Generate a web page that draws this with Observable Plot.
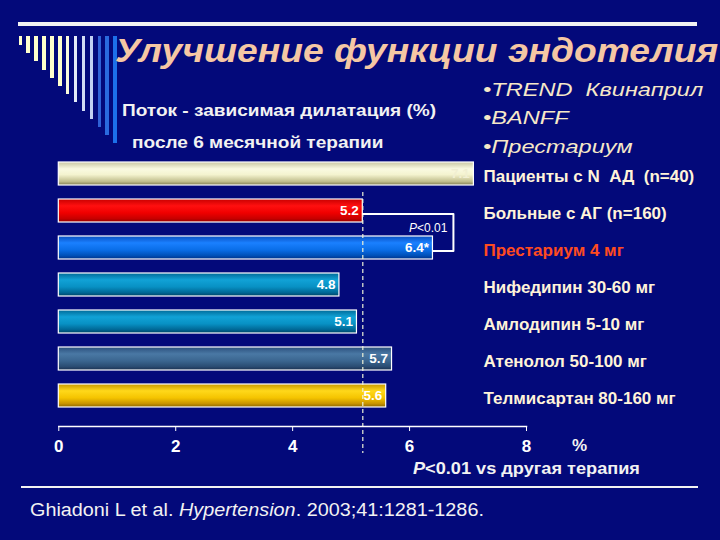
<!DOCTYPE html>
<html><head><meta charset="utf-8">
<script src="https://cdn.jsdelivr.net/npm/d3@7"></script>
<script src="https://cdn.jsdelivr.net/npm/@observablehq/plot@0.6"></script>
<style>
html,body{margin:0;padding:0;background:#03097a;}
#wrap{position:relative;width:720px;height:540px;overflow:hidden;background:#03097a;font-family:"Liberation Sans",Arial,sans-serif;}
.t{position:absolute;white-space:pre;line-height:1;transform-origin:0 0;}
.deco{position:absolute;}
#chart{position:absolute;left:0;top:0;}
g[aria-label="category labels"] text{letter-spacing:1.5px;white-space:pre;}
</style></head><body>
<div id="wrap"><div id="chart"></div></div>
<script>
// ---- data ----
const categories = ["Пациенты с N  АД  (n=40)", "Больные с АГ (n=160)", "Престариум 4 мг", "Нифедипин 30-60 мг", "Амлодипин 5-10 мг", "Атенолол 50-100 мг", "Телмисартан 80-160 мг"];
const values = [7.1, 5.2, 6.4, 4.8, 5.1, 5.7, 5.6];
const valueLabels = ["7.1", "5.2", "6.4*", "4.8", "5.1", "5.7", "5.6"];
const xTicks = [0, 2, 4, 6, 8];
const highlightCategory = "Престариум 4 мг";
const pText = "<0.01";

// ---- styles ----
const barStops = [
  [[0,"#c9c7a3"],[0.3,"#fafae2"],[0.55,"#f4f3cf"],[0.85,"#c0bd8c"],[1,"#7f7c52"]],
  [[0,"#c80000"],[0.3,"#ff1010"],[0.6,"#f00000"],[0.85,"#c80000"],[1,"#900000"]],
  [[0,"#0a4fc0"],[0.3,"#1a80ff"],[0.6,"#0a6ee8"],[0.85,"#0050b8"],[1,"#003088"]],
  [[0,"#006a98"],[0.3,"#11a2d6"],[0.6,"#0891c4"],[0.85,"#006896"],[1,"#004466"]],
  [[0,"#006a98"],[0.3,"#11a2d6"],[0.6,"#0891c4"],[0.85,"#006896"],[1,"#004466"]],
  [[0,"#2b4f7c"],[0.3,"#4a78a4"],[0.6,"#3b6690"],[0.85,"#2a4c72"],[1,"#1a3050"]],
  [[0,"#c89800"],[0.3,"#ffd81a"],[0.6,"#f5c400"],[0.85,"#c89400"],[1,"#8c6600"]]
];
const decoColors = ["#ffffcc","#ffffcc","#ffffcc","#ffffcc","#ffffcc","#ffffcc","#fbfbdc","#e4ebf8","#d2dcf4","#c2d0f2","#2f62d6","#2a6ade","#1c70ea"];

const wrap = document.getElementById("wrap");

// decorations
function deco(left, top, w, h, color) {
  const d = document.createElement("div");
  d.className = "deco";
  Object.assign(d.style, {left: left+"px", top: top+"px", width: w+"px", height: h+"px", background: color});
  wrap.appendChild(d);
}
deco(18, 22, 679, 4, "#f2f2f2");
decoColors.forEach((c, i) => deco(18.5 + i * 7.9, 36, 3.5, 9 + i * 8.2, c));
deco(21, 486, 677, 1.5, "#f2f2f2");

function addText(html, left, baseline, fs, css) {
  const d = document.createElement("div");
  d.className = "t";
  d.innerHTML = html;
  Object.assign(d.style, {left: left+"px", top: (baseline - 0.8465*fs)+"px", fontSize: fs+"px"}, css || {});
  wrap.appendChild(d);
}
addText("Улучшение функции эндотелия", 115, 62, 34, {fontWeight:"bold", fontStyle:"italic", color:"#f5c7a4", transform:"scaleX(1.095)"});
addText("Поток - зависимая дилатация (%)", 122, 116, 17, {fontWeight:"bold", color:"#f2f2f2", transform:"scaleX(1.12)"});
addText("после 6 месячной терапии", 132, 148, 17, {fontWeight:"bold", color:"#f2f2f2", transform:"scaleX(1.12)"});
addText("•TREND  Квинаприл", 483, 96, 18, {fontStyle:"italic", color:"#f6e8c8", transform:"scaleX(1.31)"});
addText("•BANFF", 483, 124, 18, {fontStyle:"italic", color:"#f6e8c8", transform:"scaleX(1.31)"});
addText("•Престариум", 483, 153, 18, {fontStyle:"italic", color:"#f6e8c8", transform:"scaleX(1.31)"});
addText("%", 572, 451, 17, {fontWeight:"bold", color:"#f2f2f2"});
addText("<i>P</i>&lt;0.01 vs другая терапия", 413, 474, 16.5, {fontWeight:"bold", color:"#f2f2f2", transform:"scaleX(1.1)"});
addText("Ghiadoni L et al. <i>Hypertension</i>. 2003;41:1281-1286.", 30, 516, 18, {color:"#f2f2f2", transform:"scaleX(1.1)"});

// ---- chart ----
const rows = categories.map((c, i) => ({category: c, value: values[i], label: valueLabels[i], fill: `url(#bar-grad-${i})`}));
const bracketX = values[2] + 0.35;
const bracket = [
  {x: values[1], y: categories[1]},
  {x: bracketX, y: categories[1]},
  {x: bracketX, y: categories[2]},
  {x: values[2], y: categories[2]}
];

function gradientDefs() {
  const defs = d3.create("svg:defs");
  barStops.forEach((stops, i) => {
    const g = defs.append("linearGradient").attr("id", `bar-grad-${i}`)
      .attr("x1", 0).attr("y1", 0).attr("x2", 0).attr("y2", 1);
    stops.forEach(([o, c]) => g.append("stop").attr("offset", o).attr("stop-color", c));
  });
  return defs.node();
}

const chart = Plot.plot({
  width: 720, height: 540,
  marginLeft: 58.3, marginRight: 194, marginTop: 150, marginBottom: 114,
  style: {background: "transparent", color: "white", fontFamily: "'Liberation Sans', Arial, sans-serif", overflow: "visible"},
  x: {domain: [0, 8]},
  y: {type: "band", domain: categories, range: [152.9, 415.4], paddingInner: 0.38, paddingOuter: 0.19, axis: null},
  color: {type: "identity"},
  marks: [
    gradientDefs,
    Plot.barX(rows, {x: "value", y: "category", fill: "fill", stroke: "white", strokeWidth: 1.2}),
    Plot.text(rows, {x: "value", y: "category", text: "label", textAnchor: "end", dx: -4, fill: (d, i) => i === 0 ? "#f1efd2" : "white", fontWeight: "bold", fontSize: 13.5}),
    Plot.ruleX([values[1]], {stroke: "#eef2d8", strokeWidth: 1.2, strokeDasharray: "4,3", insetTop: 42, insetBottom: -27}),
    Plot.line(bracket, {x: "x", y: "y", stroke: "white", strokeWidth: 2, dy: 3}),
    Plot.text([pText], {x: () => bracketX, y: () => categories[1], text: d => d, textAnchor: "end", dx: -6, dy: 17, fontSize: 12, fill: "white"}),
    Plot.text(["P"], {x: () => bracketX, y: () => categories[1], text: d => d, textAnchor: "end", dx: -36.5, dy: 17, fontSize: 12, fontStyle: "italic", fill: "white"}),
    Plot.text(categories, {y: d => d, frameAnchor: "right", textAnchor: "start", dx: -43, dy: 3, fill: d => d === highlightCategory ? "#ff4b1f" : "#fff3d9", fontWeight: "bold", fontSize: 17, ariaLabel: "category labels"}),
    Plot.frame({anchor: "bottom", stroke: "white", strokeWidth: 1.5}),
    Plot.axisX({ticks: xTicks, tickSize: 5, tickPadding: 8, fontSize: 17, fontWeight: "bold", color: "white", label: null, tickFormat: d => String(d)})
  ]
});
document.getElementById("chart").appendChild(chart);
</script>
</body></html>
